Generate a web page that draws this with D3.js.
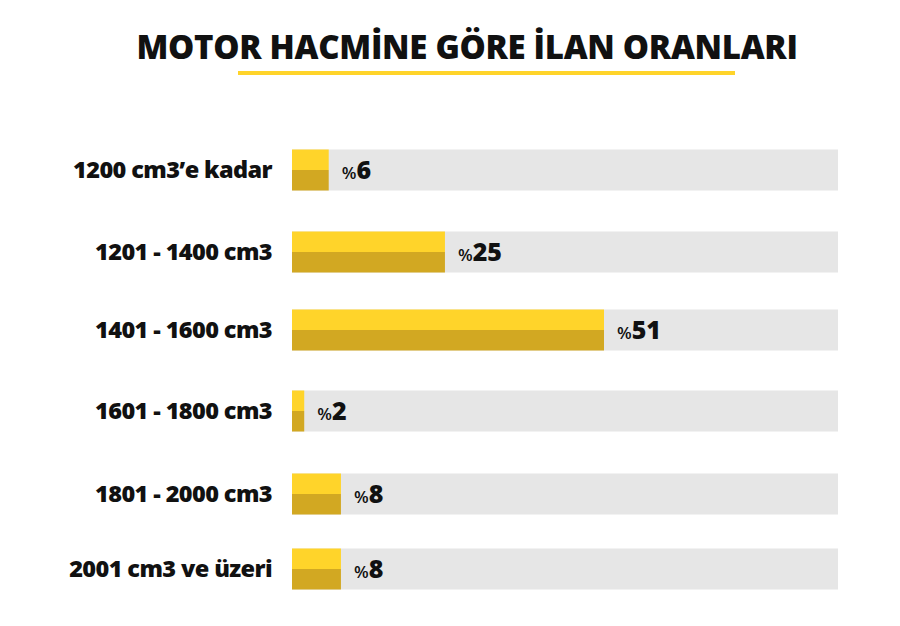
<!DOCTYPE html>
<html><head><meta charset="utf-8">
<script src="https://cdn.jsdelivr.net/npm/d3@7"></script>
<style>body{margin:0;background:#fff}</style></head>
<body><svg id="c" width="900" height="626"></svg>
<script>
const categories = ["1200 cm3’e kadar","1201 - 1400 cm3","1401 - 1600 cm3","1601 - 1800 cm3","1801 - 2000 cm3","2001 cm3 ve üzeri"];
const values = [6,25,51,2,8,8];
const rowCenters = [170,252,330,411,494,569];
const svg = d3.select("#c");
const font = "'Open Sans', 'DejaVu Sans', sans-serif";
svg.append("text").attr("x",467).attr("y",59).attr("text-anchor","middle")
  .attr("font-family",font).attr("font-weight",800).attr("font-size",33).attr("fill","#111")
  .attr("letter-spacing","-0.3").text("MOTOR HACMİNE GÖRE İLAN ORANLARI");
svg.append("rect").attr("x",238).attr("y",71).attr("width",497).attr("height",4).attr("fill","#FFD42A");
const x = d3.scaleLinear().domain([0,89.25]).range([292,838]);
const h = 41;
const g = svg.selectAll("g.row").data(categories).join("g")
  .attr("transform",(d,i)=>`translate(0,${rowCenters[i]-h/2})`);
g.append("rect").attr("x",x(0)).attr("width",x(89.25)-x(0)).attr("height",h).attr("fill","#E6E6E6");
g.append("rect").attr("x",x(0)).attr("width",(d,i)=>x(values[i])-x(0)).attr("height",h/2).attr("fill","#FFD42A");
g.append("rect").attr("x",x(0)).attr("y",h/2).attr("width",(d,i)=>x(values[i])-x(0)).attr("height",h/2).attr("fill","#D2A822");
g.append("text").attr("x",272).attr("y",h/2+8).attr("text-anchor","end")
  .attr("font-family",font).attr("font-weight",800).attr("font-size",23.5).attr("fill","#111")
  .attr("letter-spacing","-0.6").text(d=>d);
const t = g.append("text").attr("x",(d,i)=>x(values[i])+13).attr("y",h/2+9)
  .attr("font-family",font).attr("fill","#111");
t.append("tspan").attr("font-size",17).attr("font-weight",600).text("%");
t.append("tspan").attr("font-size",25).attr("font-weight",800).text((d,i)=>values[i]);
</script></body></html>
